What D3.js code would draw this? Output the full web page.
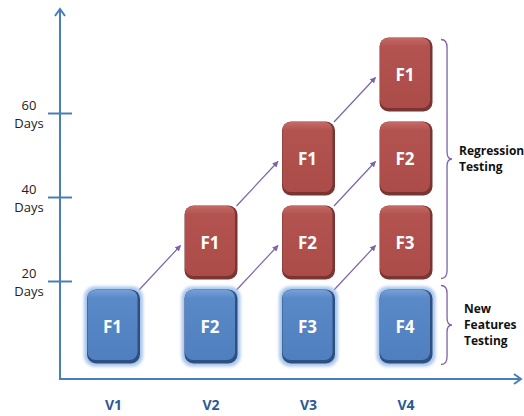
<!DOCTYPE html>
<html>
<head>
<meta charset="utf-8">
<script src="https://cdn.jsdelivr.net/npm/d3@7"></script>
<style>
  html, body { margin: 0; padding: 0; background: #ffffff; }
  svg { display: block; }
</style>
</head>
<body>
<svg id="chart" width="524" height="416"></svg>
<script>
// Release versions along the horizontal axis
const versions = ["V1", "V2", "V3", "V4"];
// Feature newly tested in each release
const newFeatures = ["F1", "F2", "F3", "F4"];
// Features re-tested in each release, listed from the lowest level upward
const regressionFeatures = [[], ["F1"], ["F2", "F1"], ["F3", "F2", "F1"]];
// Day ticks on the vertical axis
const dayTicks = [20, 40, 60];
const dayLabel = "Days";
// Width of a time slot, in days
const slotDays = 20;

const svg = d3.select("#chart");
const font = "'Open Sans', 'Noto Sans', sans-serif";

const x = d3.scalePoint().domain(versions).range([113.5, 406]);
const y = d3.scaleLinear().domain([20, 60]).range([281, 113]);

const axisColor = "#4a7ebb";
const arrowColor = "#7f62a8";
const boxW = 53, boxH = 74;

const defs = svg.append("defs");
const redGrad = defs.append("linearGradient").attr("id", "redGrad").attr("x1", 0).attr("y1", 0).attr("x2", 0).attr("y2", 1);
redGrad.append("stop").attr("offset", "0%").attr("stop-color", "#c46a66");
redGrad.append("stop").attr("offset", "12%").attr("stop-color", "#b3534f");
redGrad.append("stop").attr("offset", "100%").attr("stop-color", "#ab4c49");
const blueGrad = defs.append("linearGradient").attr("id", "blueGrad").attr("x1", 0).attr("y1", 0).attr("x2", 0).attr("y2", 1);
blueGrad.append("stop").attr("offset", "0%").attr("stop-color", "#76a0d6");
blueGrad.append("stop").attr("offset", "12%").attr("stop-color", "#5989c7");
blueGrad.append("stop").attr("offset", "100%").attr("stop-color", "#4f7fbe");
const glow = defs.append("filter").attr("id", "glow").attr("x", "-30%").attr("y", "-30%").attr("width", "160%").attr("height", "160%");
glow.append("feGaussianBlur").attr("stdDeviation", 1.6);

defs.append("marker").attr("id", "arrowHead")
  .attr("viewBox", "0 0 10 10").attr("refX", 9).attr("refY", 5)
  .attr("markerWidth", 6).attr("markerHeight", 6).attr("markerUnits", "userSpaceOnUse")
  .attr("orient", "auto")
  .append("path").attr("d", "M0,0 L10,5 L0,10 Z").attr("fill", arrowColor);

// Axes
const originX = 60, originY = 379;
svg.append("line").attr("x1", originX).attr("y1", originY + 1).attr("x2", originX).attr("y2", 9)
  .attr("stroke", axisColor).attr("stroke-width", 2);
svg.append("path").attr("d", `M${originX - 5},16 L${originX},9 L${originX + 5},16`)
  .attr("fill", "none").attr("stroke", axisColor).attr("stroke-width", 2);
svg.append("line").attr("x1", originX - 1).attr("y1", originY).attr("x2", 521).attr("y2", originY)
  .attr("stroke", axisColor).attr("stroke-width", 2);
svg.append("path").attr("d", `M514,${originY - 5} L521,${originY} L514,${originY + 5}`)
  .attr("fill", "none").attr("stroke", axisColor).attr("stroke-width", 2);

// Day ticks cross the vertical axis
const yAxis = svg.append("g").attr("transform", `translate(${originX},0)`)
  .call(d3.axisLeft(y).tickValues(dayTicks).tickSize(12).tickFormat(""));
yAxis.select(".domain").remove();
yAxis.selectAll(".tick line").attr("x1", -12).attr("x2", 12)
  .attr("stroke", axisColor).attr("stroke-width", 2);
const tickLabels = yAxis.selectAll(".tick").append("text")
  .attr("fill", "#222").attr("font-family", font).attr("font-size", 13)
  .attr("text-anchor", "middle");
tickLabels.append("tspan").attr("x", -31).attr("y", -4).text(d => d);
tickLabels.append("tspan").attr("x", -31).attr("y", 14).text(dayLabel);

// Version labels
svg.append("g").selectAll("text").data(versions).join("text")
  .attr("x", d => x(d)).attr("y", 410)
  .attr("text-anchor", "middle").attr("font-family", font).attr("font-weight", 700)
  .attr("font-size", 14).attr("fill", "#2c5a94").text(d => d);

// Boxes: one per feature per version; level 0 is new-feature testing
const boxes = [];
versions.forEach((v, i) => {
  boxes.push({ version: v, vi: i, level: 0, name: newFeatures[i], kind: "new" });
  regressionFeatures[i].forEach((f, j) => {
    boxes.push({ version: v, vi: i, level: j + 1, name: f, kind: "reg" });
  });
});
boxes.forEach(b => {
  b.x0 = x(b.version) - boxW / 2;
  b.y1 = y(b.level * slotDays) - 1.5;
  b.y0 = b.y1 - boxH;
});

// Arrows from each box to the box one level up in the next version
const links = [];
boxes.forEach(b => {
  const t = boxes.find(o => o.vi === b.vi + 1 && o.level === b.level + 1);
  if (t) links.push({ s: b, t });
});
svg.append("g").selectAll("line").data(links).join("line")
  .attr("x1", d => d.s.x0 + boxW - 1).attr("y1", d => d.s.y0 + 0.5)
  .attr("x2", d => d.t.x0 - 4).attr("y2", d => d.t.y0 + 40)
  .attr("stroke", arrowColor).attr("stroke-width", 1.2)
  .attr("marker-end", "url(#arrowHead)");

const bg = svg.append("g").selectAll("g").data(boxes).join("g")
  .attr("transform", d => `translate(${d.x0},${d.y0})`);
bg.filter(d => d.kind === "new").append("rect")
  .attr("x", -3).attr("y", -3).attr("width", boxW + 6).attr("height", boxH + 6)
  .attr("rx", 11).attr("fill", "#a9c6ec").attr("filter", "url(#glow)");
bg.append("rect").attr("width", boxW).attr("height", boxH).attr("rx", 9)
  .attr("fill", d => d.kind === "new" ? "#2d5080" : "#7a3432");
bg.append("rect").attr("x", 0.5).attr("y", 0.5).attr("width", boxW - 3).attr("height", boxH - 4).attr("rx", 8)
  .attr("fill", d => d.kind === "new" ? "url(#blueGrad)" : "url(#redGrad)");
bg.append("text").attr("x", boxW / 2 - 1).attr("y", boxH / 2 + 6)
  .attr("text-anchor", "middle").attr("font-family", font).attr("font-weight", 700)
  .attr("font-size", 17).attr("fill", "#ffffff").text(d => d.name);

// Curly braces grouping the two kinds of testing
function bracePath(xl, top, bottom, depth) {
  const mid = (top + bottom) / 2;
  const xv = xl + depth * 0.55, xc = xl + depth;
  return `M${xl},${top} Q${xv},${top} ${xv},${top + 8} L${xv},${mid - 7} Q${xv},${mid} ${xc},${mid}` +
         ` Q${xv},${mid} ${xv},${mid + 7} L${xv},${bottom - 8} Q${xv},${bottom} ${xl},${bottom}`;
}
const regBoxes = boxes.filter(b => b.kind === "reg");
const newBoxes = boxes.filter(b => b.kind === "new");
const braces = [
  { top: d3.min(regBoxes, b => b.y0) + 2, bottom: d3.max(regBoxes, b => b.y1) - 1, lines: ["Regression", "Testing"], tx: 459 },
  { top: d3.min(newBoxes, b => b.y0) - 4, bottom: d3.max(newBoxes, b => b.y1) + 1, lines: ["New", "Features", "Testing"], tx: 464 }
];
braces.forEach(br => {
  svg.append("path").attr("d", bracePath(441, br.top, br.bottom, 11))
    .attr("fill", "none").attr("stroke", arrowColor).attr("stroke-width", 1.3);
  const mid = (br.top + br.bottom) / 2;
  const lh = 16;
  const t = svg.append("text").attr("font-family", font).attr("font-weight", 700)
    .attr("font-size", 12).attr("fill", "#111");
  br.lines.forEach((l, k) => {
    t.append("tspan").attr("x", br.tx)
      .attr("y", mid + 4 + (k - (br.lines.length - 1) / 2) * lh).text(l);
  });
});
</script>
</body>
</html>
